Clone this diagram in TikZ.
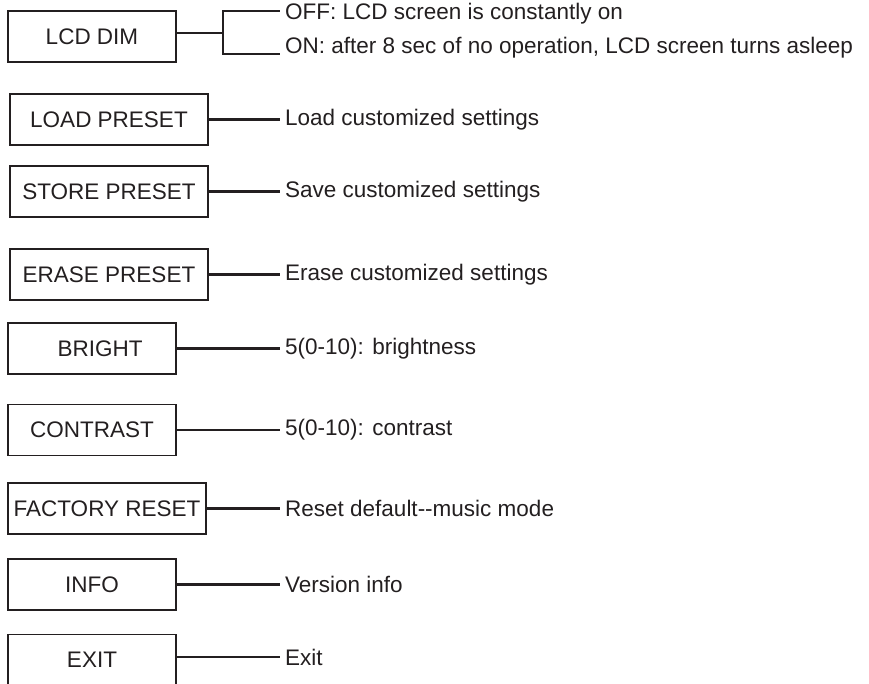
\documentclass[tikz,border=0pt]{standalone}
\usepackage{fontspec}
\setmainfont{Liberation Sans}
\usetikzlibrary{positioning,calc}
\definecolor{menuink}{RGB}{35,31,32}

\begin{document}
\begin{tikzpicture}[x=1pt,y=-1pt,
		menubox/.style={draw=menuink, line width=1.6pt, rectangle, minimum width=168pt, minimum height=51pt, inner sep=0pt, text=menuink},
		widebox/.style={menubox, minimum width=198pt},
		desc/.style={anchor=west, inner xsep=5pt, text=menuink},
		wire/.style={draw=menuink, line width=2.2pt},
		font=\fontsize{22.5}{26}\selectfont]
	\useasboundingbox (0,0) rectangle (869,683);
	\clip (0,0) rectangle (869,683);

	% LCD DIM with two options
	\node[menubox] (lcd) at (92,36.5) {LCD DIM};
	\coordinate (fork) at (223,33);
	\node[desc] (off) at (280,14) {OFF: LCD screen is constantly on};
	\node[desc] (on) at (280,48) {ON: after 8 sec of no operation, LCD screen turns asleep};
	\draw[wire] (lcd.east |- fork) -- (fork);
	\draw[wire] (fork) |- ([yshift=3pt]off.west);
	\draw[wire] (fork) |- ([yshift=-6pt]on.west);

	% Preset menus
	\node[widebox] (load) at (109,119.5) {LOAD PRESET};
	\node[desc] (loaddesc) at (280,119.5) {Load customized settings};
	\node[widebox] (store) at (109,191.5) {STORE PRESET};
	\node[desc] (storedesc) at (280,191.5) {Save customized settings};
	\node[widebox] (erase) at (109,274.5) {ERASE PRESET};
	\node[desc] (erasedesc) at (280,274.5) {Erase customized settings};

	% Display settings
	\node[menubox] (bright) at (92,348.5) {\hspace*{16pt}BRIGHT};
	\node[desc] (brightdesc) at (280,348.5) {5(0-10): brightness};
	\node[menubox] (contrast) at (92,430) {CONTRAST};
	\node[desc] (contrastdesc) at (280,430) {5(0-10): contrast};

	% Other items
	\node[widebox] (factory) at (107,508.5) {FACTORY RESET};
	\node[desc] (factorydesc) at (280,508.5) {Reset default-{}-music mode};
	\node[menubox] (info) at (92,584.5) {INFO};
	\node[desc] (infodesc) at (280,584.5) {Version info};
	\node[menubox] (exit) at (92,660) {EXIT};
	\node[desc] (exitdesc) at (280,657) {Exit};

	% Connections
	\draw[wire] (load) -- (loaddesc);
	\draw[wire] (store) -- (storedesc);
	\draw[wire] (erase) -- (erasedesc);
	\draw[wire] (bright) -- (brightdesc);
	\draw[wire] (contrast) -- (contrastdesc);
	\draw[wire] (factory) -- (factorydesc);
	\draw[wire] (info) -- (infodesc);
	\draw[wire] (exit.east |- exitdesc) -- (exitdesc);
\end{tikzpicture}
\end{document}
